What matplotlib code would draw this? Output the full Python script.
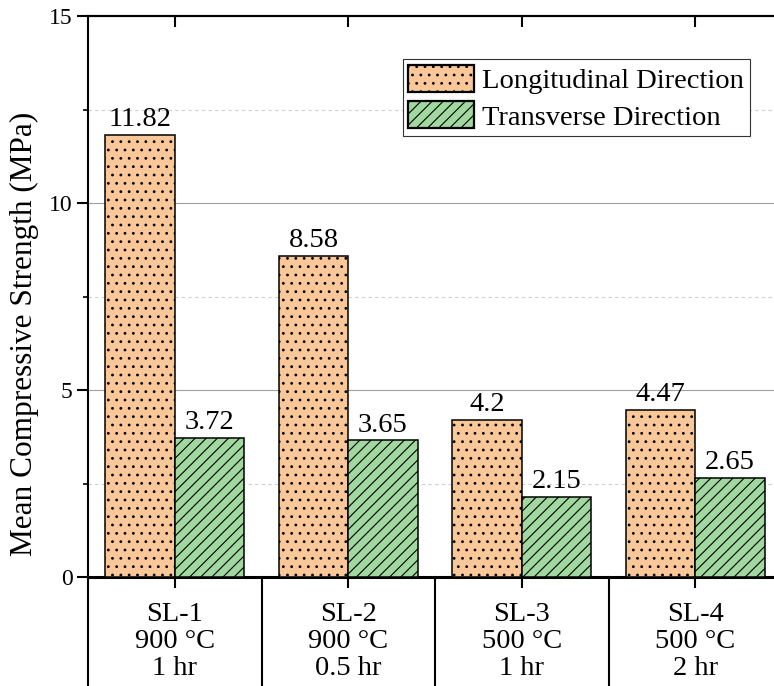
import numpy as np
import matplotlib.pyplot as plt

samples = ['SL-1\n900 °C\n1 hr', 'SL-2\n900 °C\n0.5 hr', 'SL-3\n500 °C\n1 hr', 'SL-4\n500 °C\n2 hr']
longitudinal = [11.82, 8.58, 4.2, 4.47]
transverse = [3.72, 3.65, 2.15, 2.65]
long_labels = ['11.82', '8.58', '4.2', '4.47']
trans_labels = ['3.72', '3.65', '2.15', '2.65']

plt.rcParams['font.family'] = ['Liberation Serif', 'DejaVu Serif']
plt.rcParams['hatch.linewidth'] = 0.8

fig = plt.figure(figsize=(7.74, 6.86), dpi=100)
# right edge of the axes sits just outside the picture, like the original crop
ax = fig.add_axes([88/774, 109/686, 694/774, 561/686])

x = np.arange(len(samples))
w = 0.4
b1 = ax.bar(x - w/2, longitudinal, w, color='#FAC898', edgecolor='black', linewidth=1.1,
            hatch='..', label='Longitudinal Direction', zorder=3)
b2 = ax.bar(x + w/2, transverse, w, color='#A0D8A0', edgecolor='black', linewidth=1.1,
            hatch='///', label='Transverse Direction', zorder=3)
ax.bar_label(b1, labels=long_labels, padding=2, fontsize=20.5)
ax.bar_label(b2, labels=trans_labels, padding=2, fontsize=20.5)

ax.set_xlim(-0.5, 3.5)
ax.set_ylim(0, 15)
ax.set_yticks([0, 5, 10, 15])
ax.set_yticks([2.5, 7.5, 12.5], minor=True)
ax.yaxis.grid(True, which='major', color='#a0a0a0', lw=0.8)
ax.yaxis.grid(True, which='minor', color='#cfcfcf', lw=0.8, ls=(0, (3, 3)))
ax.set_axisbelow(True)
ax.tick_params(axis='y', which='major', direction='out', length=8, width=1.5, labelsize=17, pad=3)
ax.tick_params(axis='y', which='minor', direction='out', length=3.6, width=1.2)

ax.set_xticks(x)
ax.set_xticklabels(samples, fontsize=20.5, linespacing=1.1)
ax.tick_params(axis='x', direction='out', length=8, width=1.5, pad=10)
top = ax.secondary_xaxis('top')
top.set_xticks(x)
top.tick_params(direction='in', length=8, width=1.5, labeltop=False)
top.spines['top'].set_linewidth(1.5)

for s in ['left', 'right', 'top']:
    ax.spines[s].set_linewidth(1.5)
ax.spines['bottom'].set_linewidth(2.2)

# table-like separators under the axis
for xv in [-0.5, 0.5, 1.5, 2.5, 3.5]:
    ax.plot([xv, xv], [0, -0.3], transform=ax.get_xaxis_transform(), color='black',
            lw=1.5, clip_on=False)

fig.text(24/774, 1 - 334/686, 'Mean Compressive Strength (MPa)', rotation=90,
         ha='center', va='center', fontsize=22.5)

leg = ax.legend(loc='upper right', bbox_to_anchor=(750/774, 1 - 59/686), bbox_transform=fig.transFigure,
                fontsize=20.5, frameon=True, fancybox=False, edgecolor='#333333', framealpha=1,
                borderpad=0.2, handlelength=2.3, handleheight=1.1, handletextpad=0.3,
                labelspacing=0.25, borderaxespad=0)
leg.get_frame().set_linewidth(0.8)
for h in leg.legend_handles:
    h.set_linewidth(1.6)

fig.savefig('out.png', dpi=100)
